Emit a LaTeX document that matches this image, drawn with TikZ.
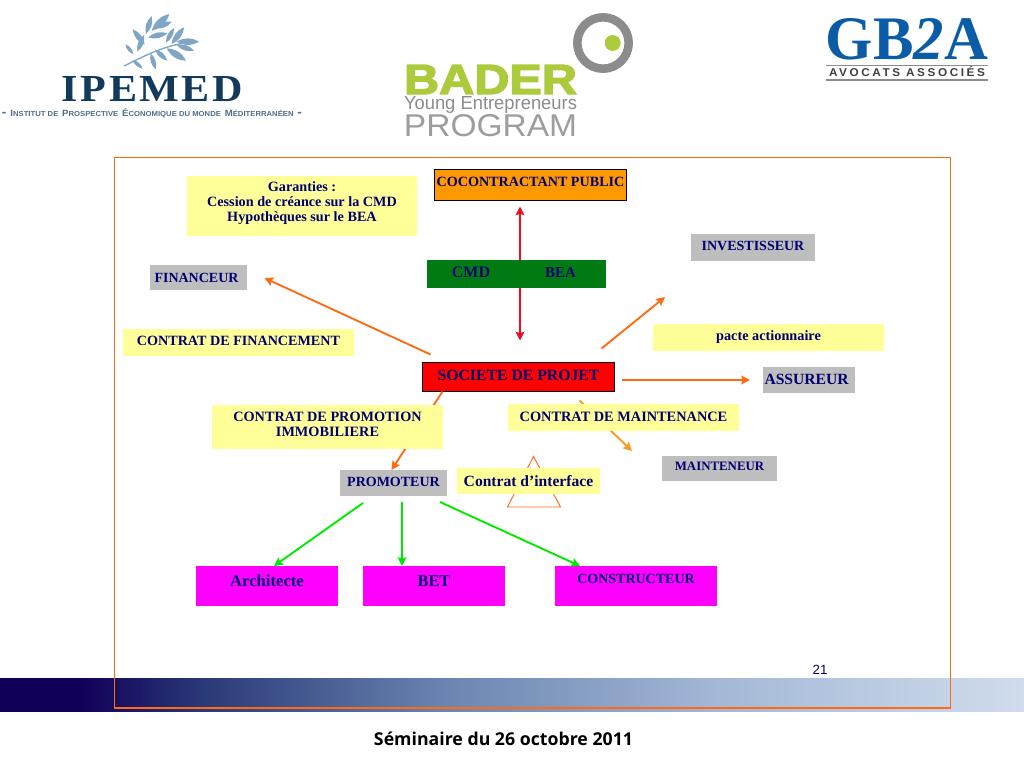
\documentclass[tikz,border=0pt]{standalone}
\usepackage{fontspec}
\usepackage{graphicx}
\setmainfont{Liberation Serif}
\newfontfamily\arialf{Liberation Sans}
\newfontfamily\openf{Open Sans}
\usetikzlibrary{calc,arrows.meta}
\definecolor{navytxt}{HTML}{000070}
\definecolor{softyellow}{HTML}{FFFF99}
\definecolor{softgray}{HTML}{BEBEBE}
\definecolor{arrorange}{HTML}{FF6A13}
\definecolor{amber}{HTML}{F79A1E}
\definecolor{cocoorange}{HTML}{FF9900}
\definecolor{cellgreen}{HTML}{007A12}
\definecolor{puremagenta}{HTML}{FF00FF}
\definecolor{purered}{HTML}{FF0000}
\definecolor{arrred}{HTML}{E8101E}
\definecolor{arrgreen}{HTML}{00EA00}
\definecolor{ipeblue}{HTML}{123A5C}
\definecolor{ipesoft}{HTML}{4F6E8C}
\definecolor{leafblue}{HTML}{7FA6C4}
\definecolor{baderg}{HTML}{ABCB3C}
\definecolor{badergray}{HTML}{8C8C8C}
\definecolor{gbblue}{HTML}{0B5CA6}
\definecolor{bA}{HTML}{120058}
\definecolor{bB}{HTML}{2A3A78}
\definecolor{bC}{HTML}{6C86B2}
\definecolor{bD}{HTML}{A3B8D6}
\definecolor{bE}{HTML}{D0DCEC}
\pgfdeclarehorizontalshading{barshade}{100bp}{color(0bp)=(bA);color(25bp)=(bA);color(29bp)=(bA);color(35bp)=(bB);color(47bp)=(bC);color(60bp)=(bD);color(75bp)=(bE);color(100bp)=(bE)}
\newcommand\lift[2]{\raisebox{\dimexpr #1pt*3/4\relax}[0pt][0pt]{#2}}
\newcommand\fitted[3]{\resizebox{\dimexpr #1pt*3/4\relax}{\dimexpr #2pt*3/4\relax}{#3}}
\newcommand\fitw[2]{\resizebox{\dimexpr #1pt*3/4\relax}{!}{#2}}
\newcommand\sz[1]{\fontsize{#1}{#1}\selectfont}
\newcommand\smc[2]{{\sz{7}#1}{\sz{5.6}#2}}
\tikzset{
  box/.style={inner sep=0pt,outer sep=0pt,font=\bfseries\sz{10.6},text=navytxt},
  yellowbox/.style={box,fill=softyellow},
  graybox/.style={box,fill=softgray},
  magbox/.style={box,fill=puremagenta},
  greenbox/.style={box,fill=cellgreen},
  conn/.style={line width=1.4pt,arrorange,-{Stealth[length=6.5pt,width=6.5pt,inset=1pt]}},
  ambconn/.style={conn,amber},
  greenconn/.style={line width=1.4pt,color=arrgreen,-{Stealth[length=6.5pt,width=6.5pt,inset=1pt]}},
  redconn/.style={line width=1.4pt,color=arrred,{Stealth[length=6.5pt,width=6.5pt,inset=1pt]}-{Stealth[length=6.5pt,width=6.5pt,inset=1pt]}},
  logotext/.style={inner sep=0pt,outer sep=0pt},
  leaf/.style={fill=leafblue,draw=none},
}
\begin{document}
\begin{tikzpicture}[x=.75pt,y=-.75pt]
\useasboundingbox (0,0) rectangle (1024,768);
% bottom bar
\path[shading=barshade] (0,678) rectangle (1024,711);
% frame
\path[draw=arrorange,line width=.8pt] (114.5,157.5) rectangle (950.5,708);
% page furniture
\node[logotext,font=\arialf\sz{10},text=navytxt] (pagenum) at (820,670) {21};
\node[logotext,text=black] (seminar) at (503.5,739) {\fitw{259}{\openf\bfseries Séminaire du 26 octobre 2011}};

% IPEMED logo
\begin{scope}[x=.25pt,y=-.25pt]
  \draw[leafblue,line width=1pt] (372,198) .. controls (430,170) and (500,130) .. (590,125);
  \foreach \a/\b/\c/\d in {438/102/455/48, 455/92/508/42, 468/85/515/65, 398/88/434/134, 432/105/412/155,
     445/112/502/100, 498/128/522/84, 515/132/552/82, 530/125/597/125, 530/135/582/152, 500/145/558/182,
     465/148/502/182, 452/160/467/208, 398/180/428/206, 376/133/400/162}
    \path[leaf] (\a,\b) to[bend left=30] (\c,\d) to[bend left=30] (\a,\b);
\end{scope}
\node[logotext,text=ipeblue] (ipemed) at (152.5,89.5) {\fitted{181}{25}{\bfseries\addfontfeatures{LetterSpace=6}IPEMED}};
\node[logotext,text=ipesoft,font=\arialf\bfseries] (ipesub) at (152,113.5) {\fitted{300}{8}{- \smc{I}{NSTITUT DE} \smc{P}{ROSPECTIVE} \smc{É}{CONOMIQUE DU MONDE} \smc{M}{ÉDITERRANÉEN} -}};

% BADER logo
\path[draw=badergray,line width=6.4pt] (603,43) circle (25.7);
\path[fill=baderg] (612.7,43) circle (8);
\node[logotext,text=baderg] (bader) at (490.5,79.5) {\fitted{173}{29}{\arialf\bfseries\addfontfeatures{FakeBold=3}BADER}};
\node[logotext,text=badergray,font=\arialf] (young) at (490.5,104.5) {\fitted{173}{13}{Young Entrepreneurs}};
\node[logotext,text=badergray!85!white,font=\arialf] (program) at (490.5,126) {\fitted{173}{22}{PROGRAM}};

% GB2A logo
\node[logotext,text=gbblue] (gb) at (907,39.5) {\fitted{162}{41}{\bfseries GB{\itshape 2}A}};
\path[fill=badergray] (826,64.5) rectangle (988,66);
\path[fill=badergray] (826,79) rectangle (988,80.5);
\node[logotext,text=black!75,font=\arialf\bfseries] (avocats) at (907,71.5) {\fitted{156}{10}{\addfontfeatures{LetterSpace=22}AVOCATS ASSOCIÉS}};

% triangle behind the interface box
\path[draw=arrorange,line width=.7pt] (533.5,456.5) -- (507.5,507) -- (560.5,507) -- cycle;

% nodes
\node[box,fill=cocoorange,draw=black,line width=.8pt,minimum width=192*.75pt,minimum height=31*.75pt] (coco) at (530.5,185) {\lift{-1.5}{COCONTRACTANT PUBLIC}};
\node[yellowbox,minimum width=230*.75pt,minimum height=60*.75pt,font=\bfseries\sz{10.65}] (garanties) at (302,205.5)
  {\lift{-1.5}{\parbox{165pt}{\centering\baselineskip=11.25pt Garanties :\\Cession de créance sur la CMD\\Hypothèques sur le BEA}}};
\node[graybox,minimum width=124*.75pt,minimum height=27*.75pt,font=\bfseries\sz{10.5}] (investisseur) at (753,247.5) {\lift{-3}{INVESTISSEUR}};
\node[graybox,minimum width=97*.75pt,minimum height=25*.75pt,font=\bfseries\sz{10.5}] (financeur) at (198.5,277.5) {\lift{-4.5}{\hspace*{-3pt}FINANCEUR}};
\node[yellowbox,minimum width=231*.75pt,minimum height=27*.75pt,font=\bfseries\sz{10.6}] (cfin) at (238.5,342.5) {\lift{-2.5}{CONTRAT DE FINANCEMENT}};
\node[yellowbox,minimum width=231*.75pt,minimum height=27*.75pt,font=\bfseries\sz{10.7}] (pacte) at (768.5,337.5) {\lift{-3}{pacte actionnaire}};
\node[box,fill=purered,draw=black,line width=.8pt,minimum width=192*.75pt,minimum height=29*.75pt,font=\bfseries\sz{11.8}] (societe) at (518.5,377) {\lift{-3}{SOCIETE DE PROJET}};
\node[graybox,minimum width=92*.75pt,minimum height=26*.75pt,font=\bfseries\sz{11.7}] (assureur) at (809,380) {\lift{-4}{\hspace*{-3.7pt}ASSUREUR}};
\node[graybox,minimum width=115*.75pt,minimum height=25*.75pt,font=\bfseries\sz{9.65}] (mainteneur) at (719.5,468.5) {\lift{-2}{MAINTENEUR}};
\node[graybox,minimum width=107*.75pt,minimum height=26*.75pt,font=\bfseries\sz{10.5}] (promoteur) at (393.5,483) {\lift{-3}{PROMOTEUR}};

% connectors that pass behind boxes
\draw[redconn,shorten >=22*.75pt,shorten <=6*.75pt] ($(coco.south)+(-10.5,0)$) -- ($(societe.north)+(1.5,0)$);
\draw[conn] ($(societe.north west)+(8,-8)$) -- ($(financeur.east)+(17.5,.5)$);
\draw[conn] ($(societe.north east)+(-13,-14)$) -- ($(pacte.north west)+(12,-27)$);
\draw[conn] ($(societe.east)+(7,3)$) -- ($(assureur.west)+(-13,0)$);
\draw[conn] ($(societe.south west)+(20,0)$) -- ($(promoteur.north)+(-2,0)$);
\draw[ambconn] ($(societe.south east)+(-35,9)$) -- ($(mainteneur.north west)+(-30,-5)$);

\node[yellowbox,minimum width=231*.75pt,minimum height=44*.75pt,font=\bfseries\sz{10.7}] (cprom) at (327.5,427)
  {\lift{-.5}{\parbox{165pt}{\centering\baselineskip=11.25pt CONTRAT DE PROMOTION\\IMMOBILIERE}}};
\node[yellowbox,minimum width=231*.75pt,minimum height=27*.75pt,font=\bfseries\sz{10.75}] (cmaint) at (623.5,417.5) {\lift{-3.5}{CONTRAT DE MAINTENANCE}};
\node[yellowbox,minimum width=143*.75pt,minimum height=26*.75pt,font=\bfseries\sz{11.7}] (interface) at (528.5,481) {\lift{-5}{Contrat d’interface}};
\node[greenbox,minimum width=88*.75pt,minimum height=28.5*.75pt,font=\bfseries\sz{12}] (cmd) at (471,274) {\lift{-3}{CMD}};
\node[greenbox,minimum width=91*.75pt,minimum height=28.5*.75pt,font=\bfseries\sz{11.2}] (bea) at (560.5,274) {\lift{-3}{BEA}};
\node[magbox,minimum width=142*.75pt,minimum height=40*.75pt,font=\bfseries\sz{12.5}] (architecte) at (267,586) {\lift{0}{Architecte}};
\node[magbox,minimum width=142*.75pt,minimum height=40*.75pt,font=\bfseries\sz{12.3}] (bet) at (434,586) {\lift{0}{BET}};
\node[magbox,minimum width=162*.75pt,minimum height=40*.75pt,font=\bfseries\sz{10.5}] (constructeur) at (636,586) {\lift{3}{CONSTRUCTEUR}};

\draw[greenconn] ($(promoteur.south)+(-30.5,7)$) -- ($(architecte.north)+(7,0)$);
\draw[greenconn] ($(promoteur.south)+(8.5,6)$) -- ($(bet.north west)+(39,0)$);
\draw[greenconn] ($(promoteur.south)+(46.5,6)$) -- ($(constructeur.north west)+(25,0)$);
\end{tikzpicture}
\end{document}
